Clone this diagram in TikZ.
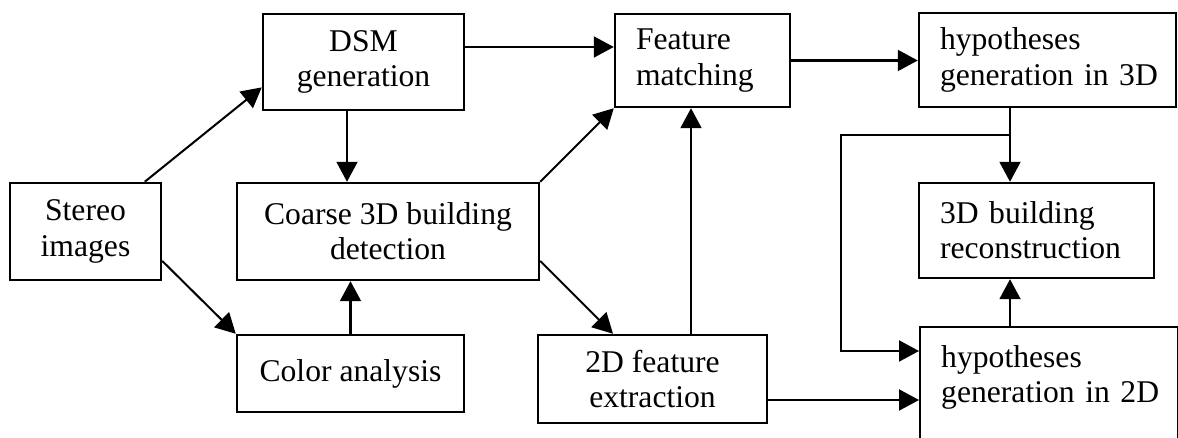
\documentclass[tikz,border=0pt]{standalone}
\usepackage{fontspec}
\setmainfont{Liberation Serif}
\usetikzlibrary{arrows.meta,positioning,calc}

\begin{document}
\begin{tikzpicture}[
  box/.style={
    rectangle, draw, line width=1.4pt, inner sep=0pt,
    align=center, font=\fontsize{18}{20}\selectfont},
  lbox/.style={
    box, align=left, inner xsep=0.42cm},
  arr/.style={-{Triangle[length=0.4cm, width=0.42cm]}, line width=1.15pt},
]
  \useasboundingbox (0,0) rectangle (23.56,-8.76);

  % ── Left column ─────────────────────────────────────────────────────────
  \node[box, minimum width=3.02cm, minimum height=1.94cm] (stereo)
      at (1.71,-4.63) {Stereo\\images};

  % ── Second column ───────────────────────────────────────────────────────
  \node[box, minimum width=4.02cm, minimum height=1.92cm] (dsm)
      at (7.27,-1.24) {DSM\\generation};
  \node[box, minimum width=6.04cm, minimum height=1.94cm] (coarse)
      at (7.76,-4.63) {Coarse 3D building\\detection};
  \node[box, minimum width=4.54cm, minimum height=1.54cm] (color)
      at (7.01,-7.47) {Color analysis};

  % ── Third column ────────────────────────────────────────────────────────
  \node[lbox, text width=2.66cm, minimum width=3.5cm, minimum height=1.86cm] (feat)
      at (14.05,-1.21) {Feature\\matching};
  \node[box, minimum width=4.58cm, minimum height=1.76cm] (fext)
      at (13.05,-7.58) {2D feature\\extraction};

  % ── Right column ────────────────────────────────────────────────────────
  \node[lbox, text width=4.3cm, minimum width=5.14cm, minimum height=1.88cm] (hypthree)
      at (20.95,-1.2) {hypotheses\\generation~in~3D};
  \node[lbox, text width=3.86cm, minimum width=4.7cm, minimum height=1.9cm] (recon)
      at (20.73,-4.61) {3D building\\reconstruction};
  % runs off the bottom edge, as in the source figure
  \node[lbox, text width=4.32cm, minimum width=5.16cm, minimum height=2.8cm,
        anchor=north west] (hyptwo)
      at (18.38,-6.52) {hypotheses\\generation~in~2D\\\strut};

  % ── Arrows from the stereo pair ─────────────────────────────────────────
  \draw[arr] (stereo.40)  -- (dsm.194.5);
  \draw[arr] (stereo.-21) -- (color.north west);

  % ── Into the coarse detection ───────────────────────────────────────────
  \draw[arr] ([xshift=-0.33cm]dsm.south) -- ([xshift=-0.33cm]dsm.south |- coarse.north);
  \draw[arr] (color.north) -- (color.north |- coarse.south);

  % ── Feature matching inputs ─────────────────────────────────────────────
  \draw[arr] ([yshift=0.3cm]dsm.east) -- ([yshift=0.3cm]dsm.east -| feat.west);
  \draw[arr] (coarse.north east) -- (feat.south west);
  \draw[arr] ([yshift=-0.59cm]coarse.east) -- ([xshift=-0.79cm]fext.north);
  \draw[arr] ([xshift=-0.23cm]feat.south |- fext.north) -- ([xshift=-0.23cm]feat.south);

  % ── Hypotheses and reconstruction ───────────────────────────────────────
  \draw[arr] (feat.east) -- (feat.east -| hypthree.west);
  \coordinate (split) at ([xshift=-0.75cm, yshift=-0.54cm]hypthree.south);
  \draw[arr] ([xshift=-0.75cm]hypthree.south) -- (split |- recon.north);
  \draw[arr] (split |- hyptwo.north) -- (split |- recon.south);
  \draw[arr] ([yshift=-0.42cm]fext.east) -- ([yshift=-0.42cm]fext.east -| hyptwo.west);

  % ── Feedback from the 3D hypotheses to the 2D ones ──────────────────────
  \coordinate (loopend) at ([yshift=-0.5cm]hyptwo.north west);
  \draw[arr] (split) -- ++(-3.38,0) |- (loopend);

\end{tikzpicture}
\end{document}
